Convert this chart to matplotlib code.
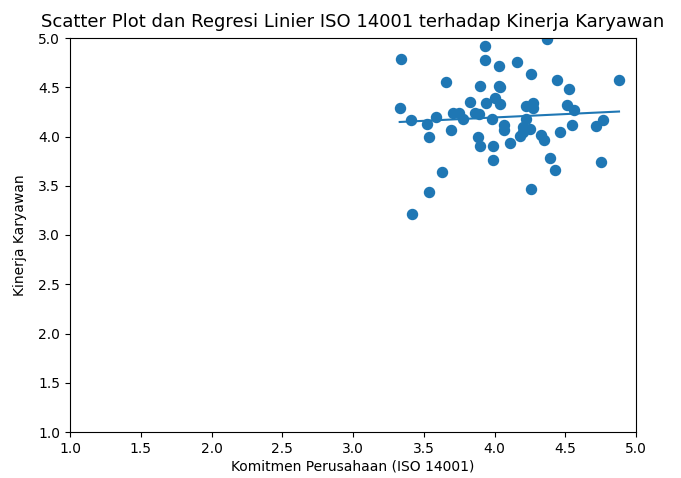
import numpy as np
import matplotlib
matplotlib.use("Agg")
import matplotlib.pyplot as plt

komitmen = [3.34, 3.33, 3.41, 3.42, 3.52, 3.54, 3.54, 3.59, 3.63, 3.66,
            3.69, 3.71, 3.75, 3.78, 3.83, 3.86, 3.89, 3.88, 3.90, 3.90,
            3.93, 3.94, 3.93, 3.98, 3.99, 4.00, 3.99, 4.03, 4.03, 4.04,
            4.07, 4.07, 4.11, 4.16, 4.18, 4.20, 4.20, 4.22, 4.22, 4.25,
            4.26, 4.26, 4.27, 4.27, 4.33, 4.35, 4.39, 4.37, 4.43, 4.44,
            4.46, 4.51, 4.53, 4.55, 4.56, 4.72, 4.75, 4.77, 4.88, 4.04]
kinerja = [4.79, 4.29, 4.17, 3.21, 4.13, 4.00, 3.44, 4.20, 3.64, 4.55,
           4.07, 4.24, 4.24, 4.18, 4.35, 4.24, 4.23, 4.00, 3.90, 4.51,
           4.92, 4.34, 4.78, 4.18, 3.90, 4.39, 3.76, 4.72, 4.51, 4.33,
           4.12, 4.07, 3.93, 4.76, 4.01, 4.10, 4.05, 4.31, 4.18, 4.08,
           4.63, 3.47, 4.34, 4.29, 4.02, 3.96, 3.78, 4.99, 3.66, 4.57,
           4.05, 4.32, 4.48, 4.12, 4.27, 4.11, 3.74, 4.17, 4.57, 4.50]

x = np.array(komitmen)
y = np.array(kinerja)
slope, intercept = np.polyfit(x, y, 1)
xs = np.array([x.min(), x.max()])

fig = plt.figure(figsize=(6.81, 4.78), dpi=100)
ax = fig.add_axes([70/681, 1-432/478, (636-70)/681, (432-38)/478])
ax.scatter(x, y, s=52, color='#1f77b4')
ax.plot(xs, slope*xs + intercept, color='#1f77b4', linewidth=1.5)
ax.set_xlim(1.0, 5.0)
ax.set_ylim(1.0, 5.0)
ax.set_xticks(np.arange(1.0, 5.01, 0.5))
ax.set_yticks(np.arange(1.0, 5.01, 0.5))
ax.set_title('Scatter Plot dan Regresi Linier ISO 14001 terhadap Kinerja Karyawan', fontsize=13, pad=8)
ax.set_xlabel('Komitmen Perusahaan (ISO 14001)', labelpad=3)
ax.set_ylabel('Kinerja Karyawan', labelpad=8)
fig.savefig('out.png', dpi=100)
